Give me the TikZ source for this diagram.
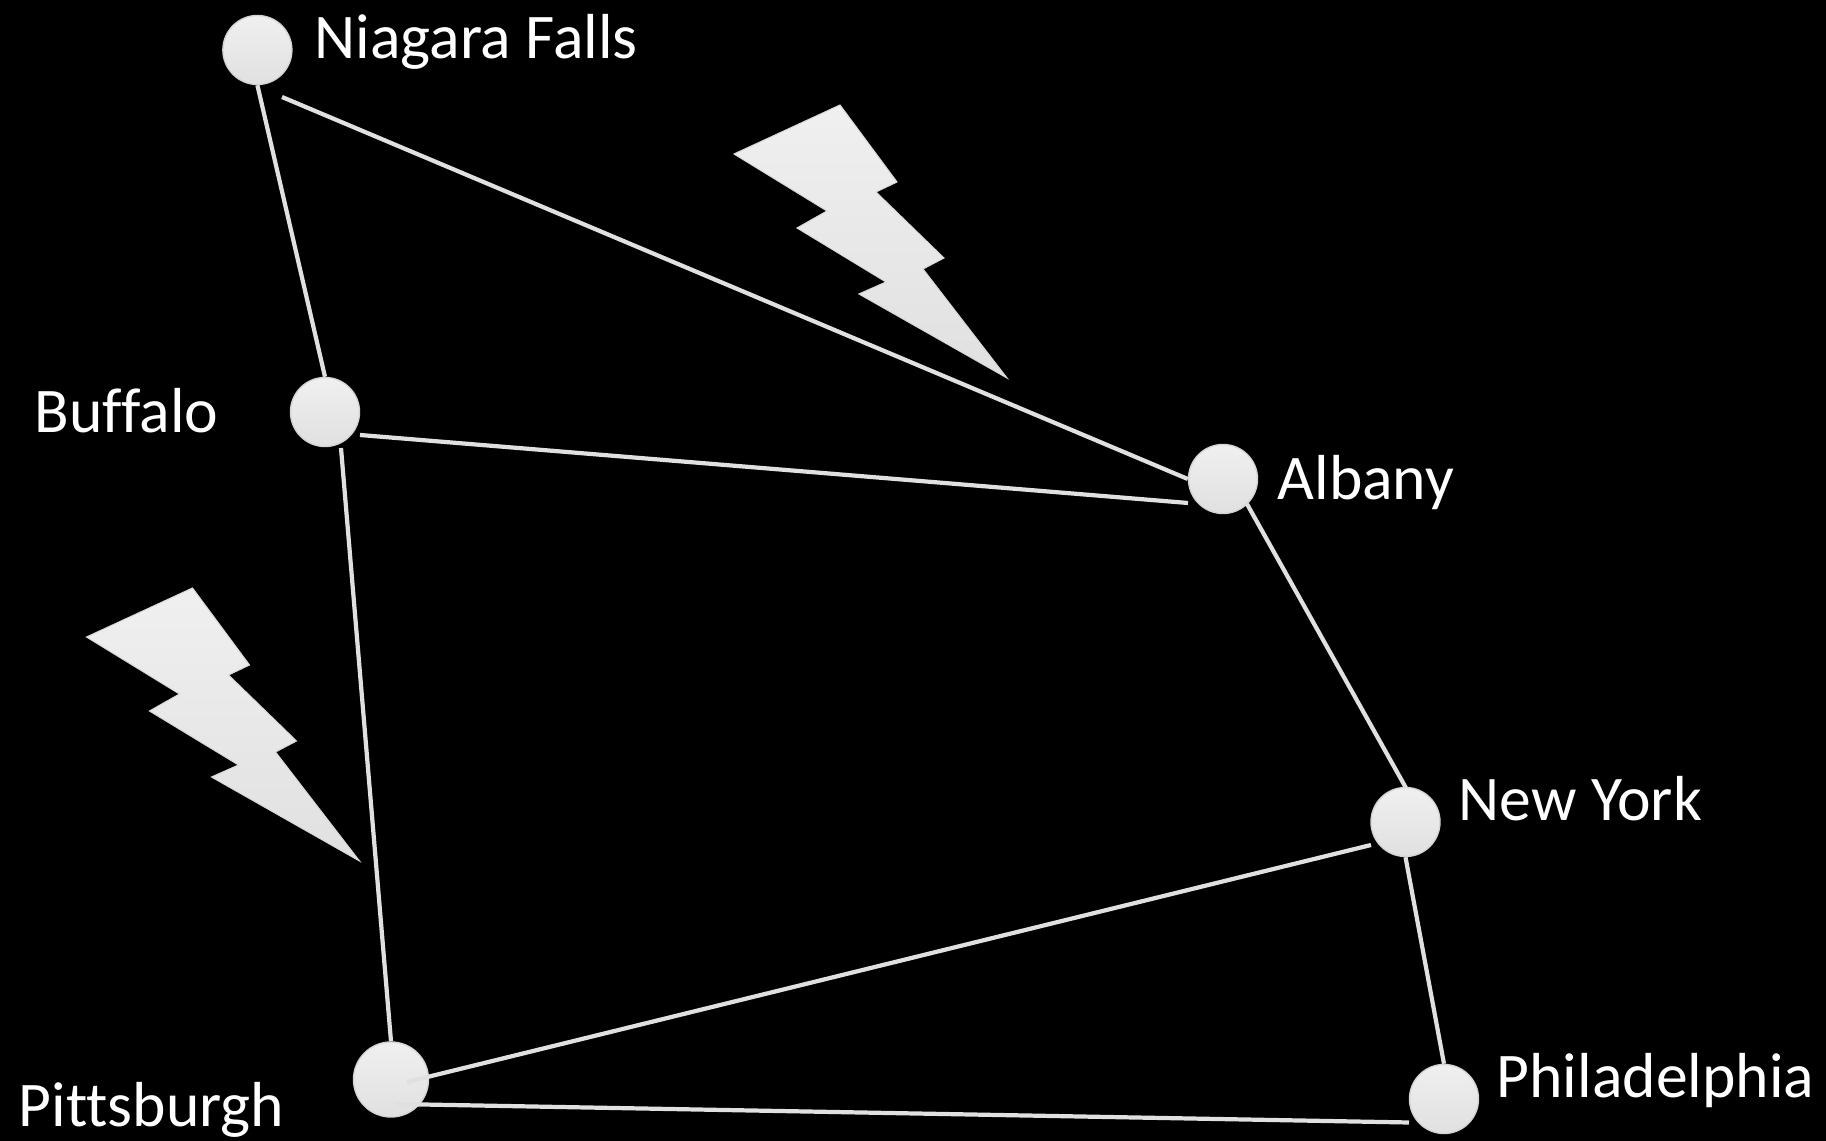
\documentclass[tikz,border=0pt]{standalone}
\usepackage{fontspec}
\setmainfont[Ligatures=NoCommon]{Carlito}
\newcommand{\cityfont}{\linespread{1}\fontsize{18.1}{21}\selectfont}
\newcommand{\drawbolt}[1]{\path[city/bolt,shift={#1}] (8.40,-1.05) -- (8.97,-1.82) -- (8.76,-1.92) -- (9.44,-2.58) -- (9.23,-2.69) -- (10.07,-3.78) -- (8.59,-2.94) -- (8.86,-2.82) -- (7.97,-2.28) -- (8.27,-2.11) -- (7.34,-1.54) -- cycle;}
\tikzset{
    city/chart/.style={font=\cityfont, every node/.style={align=left}},
    city/stop/.style={circle, draw=black!17, top color=black!6, bottom color=black!12, line width=0.4pt, minimum size=0.69cm, inner sep=0pt},
    city/name/.style={anchor=base west, text=white, inner sep=0pt},
    city/link/.style={line width=1.2pt, line cap=butt, draw=black!12},
    city/bolt/.style={top color=black!6, bottom color=black!12, draw=black!15, line width=0.3pt, line join=miter}
}
\begin{document}
\begin{tikzpicture}[city/chart]
    \fill[black] (0,0) rectangle (18.26,-11.41);
    \useasboundingbox (0,0) rectangle (18.26,-11.41);
    \drawbolt{(0,0)}
    \drawbolt{(-6.475,-4.83)}
    \node[city/stop] (niagara) at (2.574,-0.50) {};
    \node[city/stop] (buffalo) at (3.25,-4.12) {};
    \node[city/stop] (albany) at (12.23,-4.79) {};
    \node[city/stop] (newyork) at (14.055,-8.22) {};
    \node[city/stop] (philadelphia) at (14.44,-10.99) {};
    \node[city/stop,minimum size=0.75cm] (pittsburgh) at (3.91,-10.795) {};
    \node[city/name] (niagaralabel) at (3.14,-0.59) {Niagara Falls};
    \node[city/name] (buffalolabel) at (0.34,-4.33) {Buffalo};
    \node[city/name] (albanylabel) at (12.77,-5.00) {Albany};
    \node[city/name] (newyorklabel) at (14.58,-8.21) {New York};
    \node[city/name] (philadelphialabel) at (14.96,-10.98) {Philadelphia};
    \node[city/name] (pittsburghlabel) at (0.18,-11.27) {Pittsburgh};
    \coordinate (niagaraout) at (2.82,-0.97);
    \coordinate (buffaloeast) at (3.60,-4.35);
    \coordinate (buffalosouth) at (3.41,-4.48);
    \coordinate (albanylow) at (11.88,-5.03);
    \coordinate (albanyeast) at (12.47,-5.04);
    \coordinate (newyorktop) at (14.06,-7.88);
    \coordinate (newyorkwest) at (13.71,-8.45);
    \coordinate (pittsburghone) at (4.07,-10.82);
    \coordinate (pittsburghtwo) at (3.95,-11.04);
    \coordinate (philadelphiawest) at (14.09,-11.225);
    \foreach \source/\target in {niagara.south/buffalo.north,niagaraout/albany.west,buffaloeast/albanylow,buffalosouth/pittsburgh.north,albanyeast/newyorktop,newyorkwest/pittsburghone,pittsburghtwo/philadelphiawest,newyork.south/philadelphia.north}
        \draw[city/link] (\source) -- (\target);
\end{tikzpicture}
\end{document}
